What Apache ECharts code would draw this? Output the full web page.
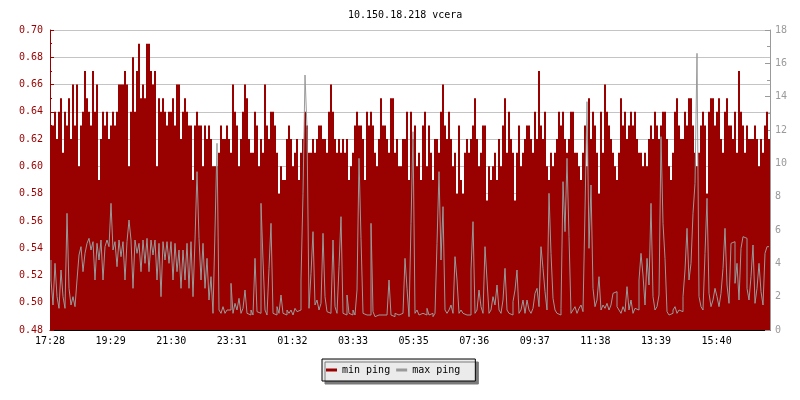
<!DOCTYPE html>
<html>
<head>
<meta charset="utf-8">
<script src="https://cdn.jsdelivr.net/npm/echarts/dist/echarts.min.js"></script>
<style>html,body{margin:0;padding:0;background:#fff}#c{width:800px;height:400px}</style>
</head>
<body>
<div id="c"></div>
<script>
const chartTitle = '10.150.18.218 vcera';
const seriesNames = ['min ping', 'max ping'];
const tickLabels = ['17:28','19:29','21:30','23:31','01:32','03:33','05:35','07:36','09:37','11:38','13:39','15:40'];
const tickStepMinutes = 121.2;
const spanMinutes = 1440;

// min ping (left axis), one sample every 4 minutes from 17:28
const minPing = [
0.63,0.63,0.64,0.62,0.64,0.65,0.61,0.64,0.63,0.65,
0.62,0.66,0.63,0.66,0.60,0.63,0.64,0.67,0.65,0.64,
0.63,0.67,0.64,0.66,0.59,0.62,0.64,0.63,0.64,0.62,
0.63,0.64,0.63,0.64,0.66,0.66,0.66,0.67,0.66,0.60,
0.64,0.68,0.64,0.67,0.69,0.65,0.66,0.65,0.69,0.69,
0.67,0.66,0.67,0.60,0.65,0.64,0.65,0.64,0.63,0.64,
0.64,0.65,0.63,0.66,0.66,0.62,0.64,0.65,0.64,0.63,
0.63,0.59,0.63,0.64,0.63,0.63,0.60,0.63,0.62,0.63,
0.62,0.60,0.60,0.60,0.61,0.63,0.62,0.62,0.63,0.62,
0.61,0.66,0.64,0.63,0.60,0.62,0.64,0.66,0.65,0.62,
0.61,0.61,0.64,0.63,0.60,0.62,0.61,0.66,0.63,0.62,
0.64,0.64,0.63,0.61,0.58,0.60,0.59,0.59,0.62,0.63,
0.62,0.60,0.61,0.62,0.59,0.61,0.62,0.64,0.63,0.61,
0.61,0.62,0.61,0.62,0.63,0.63,0.62,0.62,0.61,0.64,
0.66,0.64,0.62,0.61,0.62,0.61,0.62,0.61,0.62,0.59,
0.60,0.61,0.63,0.64,0.63,0.63,0.62,0.59,0.64,0.63,
0.64,0.63,0.61,0.60,0.62,0.65,0.63,0.63,0.62,0.61,
0.65,0.65,0.61,0.62,0.60,0.60,0.62,0.62,0.64,0.59,
0.64,0.62,0.63,0.60,0.61,0.59,0.63,0.64,0.60,0.63,
0.61,0.59,0.62,0.62,0.61,0.64,0.66,0.63,0.62,0.64,
0.62,0.60,0.61,0.58,0.63,0.59,0.58,0.61,0.62,0.61,
0.62,0.63,0.65,0.62,0.60,0.61,0.63,0.63,0.575,0.60,
0.59,0.60,0.61,0.59,0.62,0.60,0.63,0.65,0.61,0.64,
0.62,0.61,0.575,0.61,0.63,0.60,0.61,0.62,0.63,0.63,
0.62,0.61,0.64,0.62,0.67,0.63,0.62,0.64,0.60,0.59,
0.61,0.60,0.61,0.62,0.64,0.63,0.64,0.62,0.61,0.62,
0.64,0.64,0.61,0.61,0.60,0.59,0.61,0.63,0.60,0.65,
0.62,0.64,0.63,0.61,0.58,0.64,0.61,0.66,0.64,0.63,
0.62,0.61,0.60,0.59,0.61,0.65,0.63,0.64,0.62,0.63,
0.64,0.63,0.64,0.62,0.61,0.61,0.60,0.61,0.60,0.62,
0.63,0.62,0.64,0.63,0.62,0.63,0.64,0.64,0.62,0.60,
0.59,0.61,0.64,0.65,0.63,0.62,0.62,0.64,0.63,0.65,
0.65,0.63,0.61,0.60,0.61,0.63,0.64,0.63,0.58,0.64,
0.65,0.65,0.63,0.64,0.65,0.62,0.61,0.64,0.65,0.63,
0.63,0.62,0.64,0.61,0.67,0.64,0.63,0.61,0.63,0.62,
0.62,0.62,0.63,0.62,0.60,0.62,0.61,0.63,0.64,0.62
];

// max ping (right axis), same sampling
const maxPing = [
4.2,3.0,1.5,4.0,2.0,1.3,3.6,2.0,1.3,7.0,
2.5,1.5,2.0,1.4,3.0,4.5,5.0,3.5,4.6,5.2,
5.5,4.8,5.3,3.0,5.2,4.2,5.4,3.0,5.0,5.4,
5.0,7.6,4.8,5.3,3.8,5.4,4.4,5.3,3.0,5.3,
6.6,5.4,2.5,5.4,4.6,5.2,3.5,5.4,4.0,5.5,
3.5,5.4,4.5,5.4,3.0,5.2,2.0,5.3,4.2,5.3,
4.0,5.3,3.0,5.2,3.5,4.8,2.5,4.8,3.0,5.2,
2.5,5.3,2.0,5.4,9.5,5.5,3.0,5.2,2.5,4.3,
1.8,3.2,1.0,6.0,11.2,1.2,1.0,1.4,1.0,1.2,
1.2,2.8,1.0,1.6,1.2,1.9,1.0,1.3,2.4,1.0,
0.9,1.2,0.9,4.3,1.1,1.0,7.6,4.2,1.2,0.9,
3.7,6.4,1.0,0.9,1.4,1.0,2.1,1.0,0.9,1.2,
1.0,1.2,0.9,1.3,1.1,1.2,3.0,8.2,15.3,12.1,
1.3,3.4,5.9,1.5,1.8,1.2,1.6,5.8,2.0,1.1,
1.0,1.2,5.4,1.4,1.0,3.8,6.8,1.0,0.9,2.1,
1.0,0.9,1.2,0.9,2.4,10.3,5.5,1.0,0.9,0.8,
0.9,6.4,1.1,0.8,0.9,0.8,0.9,0.8,0.9,0.8,
3.0,0.9,0.8,1.0,0.9,0.8,1.0,0.9,4.3,2.5,
0.8,6.4,11.9,1.0,1.2,0.9,1.0,1.1,0.9,1.3,
0.9,1.0,0.8,1.0,5.2,9.5,4.2,7.4,1.2,1.0,
1.2,1.5,1.0,4.4,3.0,1.0,1.2,1.0,0.9,1.0,
0.9,3.6,6.5,1.0,1.2,2.4,1.4,1.0,5.0,3.0,
1.0,1.2,2.0,1.5,2.7,1.2,1.0,1.8,3.7,1.2,
1.0,0.9,1.7,2.4,3.6,1.0,1.2,1.8,1.0,1.8,
1.2,1.0,1.3,2.2,2.5,1.4,5.0,3.7,2.3,1.2,
8.2,4.6,1.9,1.2,1.0,0.9,1.3,8.9,5.9,10.3,
5.6,1.0,1.2,1.4,1.0,1.3,1.5,1.1,7.2,13.7,
4.9,8.7,2.5,1.4,1.8,3.2,1.2,1.5,1.3,1.6,
1.2,1.5,2.2,2.3,1.4,1.2,1.0,1.4,1.1,2.6,
1.2,1.8,1.0,1.3,1.2,3.0,4.6,3.3,1.5,4.3,
2.7,7.6,2.0,1.2,1.4,2.1,11.6,6.4,4.3,1.1,
0.9,1.0,1.2,1.4,1.0,1.2,1.1,2.0,3.6,6.1,
3.0,4.0,7.0,8.8,16.6,2.0,1.4,1.2,4.6,7.9,
2.2,1.4,1.8,2.5,2.0,1.4,2.2,3.7,6.1,2.7,
1.6,5.2,5.3,2.8,4.0,1.8,4.9,5.6,5.5,2.5,
1.8,3.2,5.1,1.6,2.5,4.0,2.3,1.5,4.6,5.0
];

const sampleIndex = minPing.map((_, i) => String(i));

const FONT = '"DejaVu Sans Mono", "Liberation Mono", monospace';
const RED = '#990000';
const GRAY = '#9a9a9a';

const chart = echarts.init(document.getElementById('c'), null, {renderer: 'canvas'});
chart.setOption({
  animation: false,
  backgroundColor: '#ffffff',
  title: {
    text: chartTitle,
    left: 343, top: 5,
    textStyle: {fontFamily: FONT, fontSize: 10, fontWeight: 'normal', color: '#000'}
  },
  legend: {
    left: 322, top: 359,
    padding: [6, 15, 6, 4],
    itemGap: 6,
    itemWidth: 11, itemHeight: 3,
    icon: 'rect',
    backgroundColor: '#ebebeb',
    borderColor: '#000', borderWidth: 1,
    shadowColor: '#7a7a7a', shadowBlur: 0, shadowOffsetX: 3, shadowOffsetY: 3,
    textStyle: {fontFamily: FONT, fontSize: 10, color: '#000'},
    data: [
      {name: seriesNames[0], itemStyle: {color: RED}},
      {name: seriesNames[1], itemStyle: {color: GRAY}}
    ]
  },
  grid: {left: 50, right: 30, top: 30, bottom: 70, containLabel: false},
  xAxis: [
    {
      type: 'value', min: 0, max: spanMinutes, interval: tickStepMinutes,
      position: 'bottom',
      axisLine: {show: true, lineStyle: {color: '#000', width: 1}},
      axisTick: {show: true, inside: true, length: 4, lineStyle: {color: '#000'}},
      axisLabel: {
        color: '#000', fontFamily: FONT, fontSize: 10, margin: 6, showMaxLabel: false,
        formatter: function (v) {
          const k = Math.round(v / tickStepMinutes);
          if (Math.abs(k * tickStepMinutes - v) < 0.01 && k < tickLabels.length) return tickLabels[k];
          return '';
        }
      },
      splitLine: {show: false}
    },
    {
      type: 'category', data: sampleIndex, show: false, boundaryGap: true,
      axisLine: {show: false}, axisTick: {show: false}, axisLabel: {show: false}
    }
  ],
  yAxis: [
    {
      type: 'value', min: 0.48, max: 0.70, interval: 0.02, position: 'left',
      axisLine: {show: true, lineStyle: {color: RED}},
      axisTick: {show: true, inside: true, length: 4, lineStyle: {color: RED}},
      minorTick: {show: true, splitNumber: 2, length: 2, lineStyle: {color: RED}},
      axisLabel: {color: RED, fontFamily: FONT, fontSize: 10, margin: 7, formatter: v => v.toFixed(2)},
      splitLine: {show: true, lineStyle: {color: '#c4c4c4', width: 1}}
    },
    {
      type: 'value', min: 0, max: 18, interval: 2, position: 'right',
      axisLine: {show: true, lineStyle: {color: GRAY}},
      axisTick: {show: true, inside: true, length: 5, lineStyle: {color: GRAY}},
      minorTick: {show: true, splitNumber: 2, length: 3, lineStyle: {color: GRAY}},
      axisLabel: {color: GRAY, fontFamily: FONT, fontSize: 10, margin: 5},
      splitLine: {show: false}
    }
  ],
  series: [
    {
      name: seriesNames[0], type: 'bar', xAxisIndex: 1, yAxisIndex: 0,
      data: minPing, barCategoryGap: '0%', barGap: '0%',
      itemStyle: {color: RED}, silent: true
    },
    {
      name: seriesNames[1], type: 'line', xAxisIndex: 1, yAxisIndex: 1,
      data: maxPing, step: 'start', symbol: 'none', showSymbol: false,
      lineStyle: {color: GRAY, width: 1}, itemStyle: {color: GRAY}, silent: true
    }
  ]
});
</script>
</body>
</html>
